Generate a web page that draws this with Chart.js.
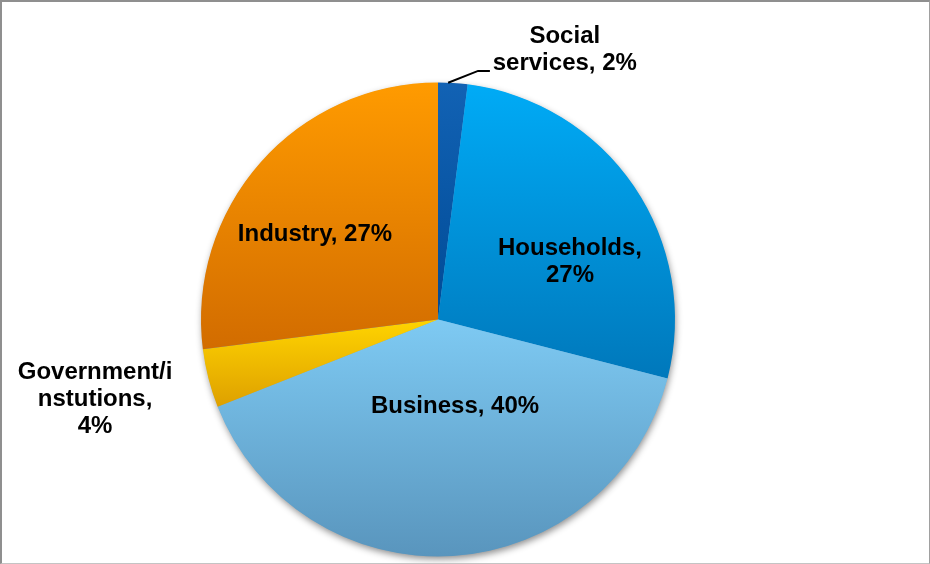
<!DOCTYPE html>
<html lang="en">
<head>
    <meta charset="UTF-8">
    <title>Energy use by sector</title>
    <style>
        body { margin: 0; background: #fff; font-family: "Liberation Sans", Arial, sans-serif; }
        .wrap { position: relative; width: 930px; height: 564px; }
        .wrap canvas { position: absolute; left: 0; top: 0; }
        .frame {
            position: absolute; left: 0; top: 0; width: 930px; height: 564px;
            box-sizing: border-box; pointer-events: none;
            border-top: 2px solid #8f8f8f; border-left: 2px solid #8f8f8f;
            border-right: 1px solid #a0a0a0; border-bottom: 1px solid #c4c4c4;
        }
    </style>
    <script src="https://cdn.jsdelivr.net/npm/chart.js"></script>
</head>
<body>
    <div class="wrap">
        <canvas id="pieChart" width="930" height="564"></canvas>
        <div class="frame"></div>
    </div>

    <script>
        const sectors = ['Social services', 'Households', 'Business', 'Government/instutions', 'Industry'];
        const shares = [2, 27, 40, 4, 27];
        // label text as it is wrapped on the chart
        const labelLines = [
            ['Social', 'services, 2%'],
            ['Households,', '27%'],
            ['Business, 40%'],
            ['Government/i', 'nstutions,', '4%'],
            ['Industry, 27%']
        ];
        const topColors = ['#1262b4', '#00abf6', '#7ecaf3', '#ffd400', '#ff9b00'];
        const bottomColors = ['#004b96', '#0078bb', '#5995bd', '#dea000', '#d26c00'];

        // label anchor, in pie radii from the centre
        const labelAnchors = [
            [0.535, -1.137], [0.557, -0.245], [0.072, 0.365], [-1.447, 0.335], [-0.519, -0.361]
        ];

        function pieGeometry(chart) {
            const a = chart.chartArea;
            return {
                cx: (a.left + a.right) / 2,
                cy: (a.top + a.bottom) / 2,
                r: Math.min(a.right - a.left, a.bottom - a.top) / 2
            };
        }

        function sliceAngles(i) {
            const total = shares.reduce((s, v) => s + v, 0);
            let before = 0;
            for (let k = 0; k < i; k++) before += shares[k];
            const start = -Math.PI / 2 + before / total * Math.PI * 2;
            const end = start + shares[i] / total * Math.PI * 2;
            return [start, end];
        }

        // vertical gradient spanning each slice's own bounding box
        function sliceFill(context) {
            const chart = context.chart;
            if (!chart.chartArea) return topColors[context.dataIndex];
            const i = context.dataIndex;
            const g = pieGeometry(chart);
            const [start, end] = sliceAngles(i);
            const ys = [g.cy, g.cy + g.r * Math.sin(start), g.cy + g.r * Math.sin(end)];
            [Math.PI / 2, Math.PI * 1.5, -Math.PI / 2].forEach(t => {
                if (t > start && t < end) ys.push(g.cy + g.r * Math.sin(t));
            });
            const y0 = Math.min(...ys), y1 = Math.max(...ys);
            const grad = chart.ctx.createLinearGradient(0, y0, 0, y1);
            grad.addColorStop(0, topColors[i]);
            grad.addColorStop(1, bottomColors[i]);
            return grad;
        }

        const shadowPlugin = {
            id: 'pieShadow',
            beforeDatasetsDraw(chart) {
                const ctx = chart.ctx;
                const g = pieGeometry(chart);
                ctx.save();
                ctx.shadowColor = 'rgba(0,0,0,0.45)';
                ctx.shadowBlur = 7;
                ctx.shadowOffsetX = 1;
                ctx.shadowOffsetY = 3;
                ctx.fillStyle = '#6fa9d4';
                ctx.beginPath();
                ctx.arc(g.cx, g.cy, g.r - 0.5, 0, Math.PI * 2);
                ctx.fill();
                ctx.restore();
            }
        };

        const labelPlugin = {
            id: 'sliceLabels',
            afterDatasetsDraw(chart) {
                const ctx = chart.ctx;
                const g = pieGeometry(chart);
                const lineH = 27;
                ctx.save();
                ctx.fillStyle = '#000';
                ctx.font = 'bold 24px "Liberation Sans", Arial, sans-serif';
                ctx.textAlign = 'center';
                ctx.textBaseline = 'middle';
                labelLines.forEach((lines, i) => {
                    const x = g.cx + labelAnchors[i][0] * g.r;
                    const y = g.cy + labelAnchors[i][1] * g.r;
                    const y0 = y - (lines.length - 1) * lineH / 2;
                    lines.forEach((t, k) => ctx.fillText(t, x, y0 + k * lineH));
                });

                // leader line for the small slice at the top
                const [s, e] = sliceAngles(0);
                const mid = (s + e) / 2 - 0.02;
                ctx.strokeStyle = '#000';
                ctx.lineWidth = 2;
                ctx.beginPath();
                ctx.moveTo(g.cx + g.r * Math.cos(mid), g.cy + g.r * Math.sin(mid));
                ctx.lineTo(g.cx + 0.169 * g.r, g.cy - 1.049 * g.r);
                ctx.lineTo(g.cx + 0.219 * g.r, g.cy - 1.049 * g.r);
                ctx.stroke();
                ctx.restore();
            }
        };

        new Chart(document.getElementById('pieChart'), {
            type: 'pie',
            data: {
                labels: sectors,
                datasets: [{
                    data: shares,
                    backgroundColor: sliceFill,
                    borderWidth: 0
                }]
            },
            options: {
                responsive: false,
                animation: false,
                devicePixelRatio: 1,
                layout: { padding: { left: 201, right: 255, top: 82, bottom: 7 } },
                plugins: {
                    legend: { display: false },
                    tooltip: { enabled: false }
                }
            },
            plugins: [shadowPlugin, labelPlugin]
        });
    </script>
</body>
</html>
